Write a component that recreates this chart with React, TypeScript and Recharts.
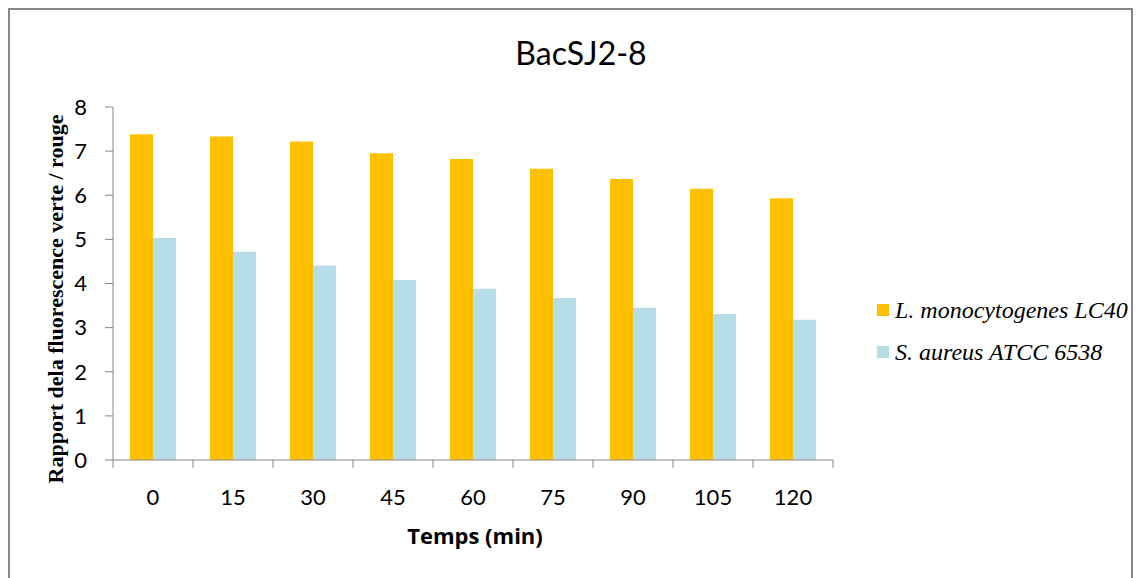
import React from 'react';
import { BarChart, Bar, XAxis, YAxis, Legend } from 'recharts';

const times = ['0', '15', '30', '45', '60', '75', '90', '105', '120'];
const listeria = [7.38, 7.33, 7.22, 6.95, 6.82, 6.6, 6.37, 6.15, 5.93];
const aureus = [5.03, 4.72, 4.41, 4.08, 3.88, 3.67, 3.45, 3.31, 3.18];
const yTicks = [0, 1, 2, 3, 4, 5, 6, 7, 8];

const series = [
  { key: 'lm', name: 'L. monocytogenes LC40', color: '#FFC000' },
  { key: 'sa', name: 'S. aureus ATCC 6538', color: '#B7DDE8' },
];

const data = times.map((t, i) => ({ time: t, lm: listeria[i], sa: aureus[i] }));

const W = 1121;
const H = 580;
const PLOT_W = 720;
const band = PLOT_W / times.length;
const axisGrey = '#878787';
const sans = 'Lato, "Open Sans", sans-serif';
const serif = '"Liberation Serif", "DejaVu Serif", serif';

// excel style: tick marks between categories, labels centered
const TimeTick = (props: any) => {
  const { x, y, payload, index } = props;
  const last = index === times.length - 1;
  return (
    <g>
      <line x1={x - band / 2} x2={x - band / 2} y1={y} y2={y + 8} stroke={axisGrey} />
      {last && <line x1={x + band / 2} x2={x + band / 2} y1={y} y2={y + 8} stroke={axisGrey} />}
      <text
        x={x}
        y={y + 36}
        textAnchor="middle"
        dominantBaseline="central"
        fontFamily={sans}
        fontSize={22}
        fill="#000"
      >
        {payload.value}
      </text>
    </g>
  );
};

const LegendBox = () => (
  <div>
    {series.map((s) => (
      <div
        key={s.key}
        style={{
          display: 'flex',
          alignItems: 'center',
          height: 42,
          fontFamily: serif,
          fontStyle: 'italic',
          fontSize: 24,
          color: '#000',
          whiteSpace: 'nowrap',
        }}
      >
        <span style={{ width: 12, height: 12, background: s.color, marginRight: 6, display: 'inline-block' }} />
        <span style={{ fontFamily: serif }}>{s.name}</span>
      </div>
    ))}
  </div>
);

export default function App() {
  return (
    <div
      style={{
        position: 'relative',
        width: W,
        height: 590,
        border: `2px solid ${axisGrey}`,
        background: '#fff',
      }}
    >
      <div
        style={{
          position: 'absolute',
          left: 371,
          top: 23,
          width: 400,
          textAlign: 'center',
          fontFamily: sans,
          fontSize: 32,
          lineHeight: '40px',
          color: '#000',
        }}
      >
        BacSJ2-8
      </div>
      <BarChart
        width={W}
        height={H}
        data={data}
        margin={{ top: 97, right: W - 823, left: 0, bottom: H - 450 - 60 }}
        barGap={0}
        barSize={23}
      >
        <XAxis
          dataKey="time"
          height={60}
          interval={0}
          tickLine={false}
          tickSize={0}
          tickMargin={0}
          axisLine={{ stroke: axisGrey }}
          tick={<TimeTick />}
          label={{
            content: () => (
              <text
                x={465}
                y={525}
                textAnchor="middle"
                dominantBaseline="central"
                fontFamily='"Open Sans", sans-serif'
                fontWeight="bold"
                fontSize={22}
                fill="#000"
              >
                Temps (min)
              </text>
            ),
          }}
        />
        <YAxis
          width={103}
          domain={[0, 8]}
          ticks={yTicks}
          interval={0}
          tickSize={8}
          tickMargin={18}
          axisLine={{ stroke: axisGrey }}
          tickLine={{ stroke: axisGrey }}
          tick={{ fontFamily: sans, fontSize: 22, fill: '#000' }}
          label={{
            content: () => (
              <text
                x={45}
                y={289}
                textAnchor="middle"
                dominantBaseline="central"
                transform="rotate(-90 45 289)"
                fontFamily={serif}
                fontWeight="bold"
                fontSize={22}
                fill="#000"
              >
                Rapport dela fluorescence verte / rouge
              </text>
            ),
          }}
        />
        <Legend
          layout="horizontal"
          verticalAlign="middle"
          align="center"
          content={<LegendBox />}
          wrapperStyle={{ left: 867, top: 279, width: 260 }}
        />
        {series.map((s) => (
          <Bar key={s.key} dataKey={s.key} name={s.name} fill={s.color} isAnimationActive={false} />
        ))}
      </BarChart>
    </div>
  );
}
